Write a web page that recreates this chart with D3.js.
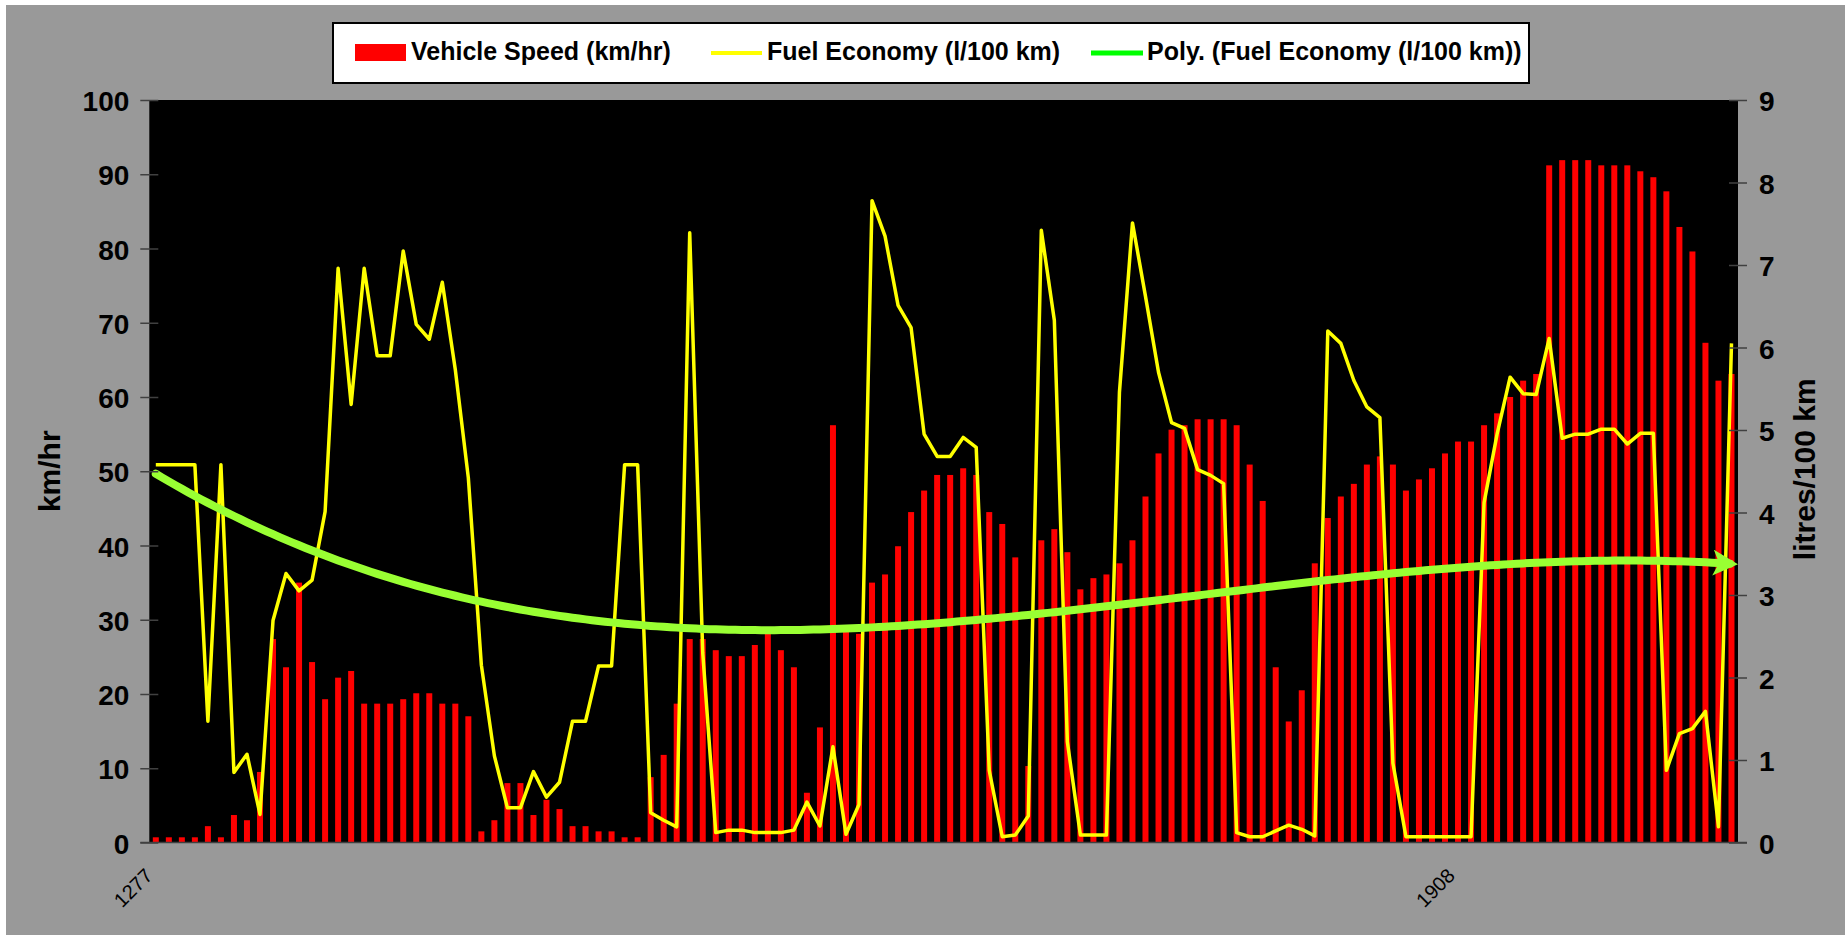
<!DOCTYPE html>
<html><head><meta charset="utf-8">
<script src="https://cdn.jsdelivr.net/npm/d3@7"></script>
<style>
body{margin:0;background:#fff;}
svg{display:block;}
text{font-family:"Liberation Sans",Arial,Helvetica,sans-serif;}
</style>
</head><body>
<svg id="c" width="1845" height="935"></svg>
<script>
// ---- DATA ----
const speed = [
  0.7, 0.7, 0.7, 0.7, 2.2, 0.7, 3.7, 3.0, 9.5, 27.4,
  23.6, 35.0, 24.3, 19.3, 22.2, 23.1, 18.7, 18.7, 18.7, 19.3,
  20.1, 20.1, 18.7, 18.7, 17.0, 1.5, 3.0, 8.0, 8.0, 3.7,
  5.75, 4.5, 2.2, 2.2, 1.5, 1.5, 0.7, 0.7, 8.8, 11.8,
  18.7, 27.4, 27.4, 25.9, 25.1, 25.1, 26.6, 28.2, 25.9, 23.6,
  6.7, 15.5, 56.2, 28.4, 28.1, 35.0, 36.1, 39.9, 44.5, 47.4,
  49.5, 49.5, 50.4, 49.5, 44.5, 42.9, 38.4, 10.3, 40.7, 42.2,
  39.1, 34.1, 35.6, 36.1, 37.6, 40.7, 46.6, 52.4, 55.6, 56.2,
  57.0, 57.0, 57.0, 56.2, 50.9, 46.0, 23.6, 16.3, 20.5, 37.6,
  43.7, 46.6, 48.3, 50.9, 52.0, 50.9, 47.4, 48.9, 50.4, 52.4,
  54.0, 54.0, 56.2, 57.8, 60.0, 62.2, 63.1, 91.2, 91.9, 91.9,
  91.9, 91.2, 91.2, 91.2, 90.4, 89.6, 87.7, 82.9, 79.6, 67.3,
  62.2, 63.1
];
const fuel = [
  4.58, 4.58, 4.58, 4.58, 1.47, 4.58, 0.85, 1.07, 0.34, 2.69,
  3.26, 3.05, 3.18, 4.01, 6.96, 5.31, 6.96, 5.90, 5.90, 7.17,
  6.28, 6.10, 6.79, 5.73, 4.42, 2.15, 1.05, 0.42, 0.42, 0.86,
  0.55, 0.73, 1.47, 1.47, 2.14, 2.14, 4.58, 4.58, 0.36, 0.27,
  0.19, 7.39, 2.30, 0.12, 0.15, 0.15, 0.12, 0.12, 0.12, 0.15,
  0.49, 0.20, 1.16, 0.10, 0.46, 7.78, 7.35, 6.51, 6.24, 4.95,
  4.68, 4.68, 4.91, 4.79, 0.875, 0.07, 0.09, 0.32, 7.42, 6.33,
  1.22, 0.09, 0.09, 0.09, 5.46, 7.51, 6.62, 5.70, 5.09, 5.02,
  4.52, 4.45, 4.35, 0.12, 0.07, 0.07, 0.14, 0.21, 0.16, 0.08,
  6.20, 6.05, 5.60, 5.28, 5.15, 0.96, 0.07, 0.07, 0.07, 0.07,
  0.07, 0.07, 4.12, 4.95, 5.64, 5.44, 5.43, 6.11, 4.90, 4.95,
  4.95, 5.01, 5.01, 4.83, 4.96, 4.96, 0.875, 1.32, 1.38, 1.59,
  0.19, 6.05
];
const xTickLabels = ["1277", "1908"];
const xTickIndex = [0, 100];
const speedTicks = [0, 10, 20, 30, 40, 50, 60, 70, 80, 90, 100];
const fuelTicks = [0, 1, 2, 3, 4, 5, 6, 7, 8, 9];
const legendLabels = ["Vehicle Speed (km/hr)", "Fuel Economy (l/100 km)", "Poly. (Fuel Economy (l/100 km))"];
const leftTitle = "km/hr";
const rightTitle = "litres/100 km";
const polyOrder = 3;

// ---- LAYOUT ----
const W = 1845, H = 935;
const P = {l: 149.3, r: 1738, t: 100, b: 842.5};
const svg = d3.select("#c");

svg.append("rect").attr("x", 0).attr("y", 0).attr("width", W).attr("height", H).attr("fill", "#ffffff");
svg.append("rect").attr("x", 6).attr("y", 5).attr("width", W - 6).attr("height", H - 5).attr("fill", "#999999");
svg.append("rect").attr("x", P.l).attr("y", P.t).attr("width", P.r - P.l).attr("height", P.b - P.t).attr("fill", "#000000");

const idx = speed.map((d, i) => i);
const x = d3.scaleBand().domain(idx).range([P.l, P.r]).paddingInner(0.54).paddingOuter(0.27);
const bw = x.bandwidth();
const step = x.step();
const xc = i => x(0) + bw / 2 + i * step; // continuous index -> px (band centres)
const yS = d3.scaleLinear().domain([0, 100]).range([P.b, P.t]);
const yF = d3.scaleLinear().domain([0, 9]).range([P.b, P.t]);

// bars
svg.append("g").selectAll("rect").data(speed).join("rect")
  .attr("x", (d, i) => x(i)).attr("y", d => yS(d))
  .attr("width", bw).attr("height", d => yS(0) - yS(d))
  .attr("fill", "#ff0000");

// polynomial trend (least squares, like Excel's trendline)
function polyfit(xs, ys, order) {
  const n = order + 1;
  const A = Array.from({length: n}, () => new Array(n).fill(0));
  const b = new Array(n).fill(0);
  xs.forEach((xv, k) => {
    const p = [];
    for (let j = 0; j < n; j++) p.push(Math.pow(xv, j));
    for (let r = 0; r < n; r++) {
      b[r] += p[r] * ys[k];
      for (let c = 0; c < n; c++) A[r][c] += p[r] * p[c];
    }
  });
  for (let c = 0; c < n; c++) {
    let piv = c;
    for (let r = c + 1; r < n; r++) if (Math.abs(A[r][c]) > Math.abs(A[piv][c])) piv = r;
    [A[c], A[piv]] = [A[piv], A[c]]; [b[c], b[piv]] = [b[piv], b[c]];
    for (let r = c + 1; r < n; r++) {
      const f = A[r][c] / A[c][c];
      for (let k = c; k < n; k++) A[r][k] -= f * A[c][k];
      b[r] -= f * b[c];
    }
  }
  const coef = new Array(n).fill(0);
  for (let r = n - 1; r >= 0; r--) {
    let s = b[r];
    for (let k = r + 1; k < n; k++) s -= A[r][k] * coef[k];
    coef[r] = s / A[r][r];
  }
  return coef;
}
const N = fuel.length - 1;
const coef = polyfit(idx.map(i => i / N), fuel, polyOrder);
const trend = t => coef.reduce((s, c, j) => s + c * Math.pow(t / N, j), 0);

const trendPts = d3.range(0, N + 0.001, 0.5);
const lineT = d3.line().x(t => xc(t)).y(t => yF(trend(t))).curve(d3.curveLinear);
svg.append("path").attr("d", lineT(trendPts)).attr("fill", "none")
  .attr("stroke", "#00ff00").attr("stroke-width", 4);

// yellow fuel line
const lineF = d3.line().x((d, i) => xc(i)).y(d => yF(d));
svg.append("path").datum(fuel).attr("d", lineF).attr("fill", "none")
  .attr("stroke", "#ffff00").attr("stroke-width", 3.5).attr("stroke-linejoin", "round");

// arrow emphasising the trend
const defs = svg.append("defs");
defs.append("marker").attr("id", "ah").attr("markerUnits", "userSpaceOnUse")
  .attr("markerWidth", 28).attr("markerHeight", 28).attr("viewBox", "0 0 28 28")
  .attr("refX", 17).attr("refY", 13).attr("orient", "auto")
  .append("path").attr("d", "M0,0 L25,13 L0,26 L6,13 Z").attr("fill", "#99ff33");
const tEnd = (P.r - 8 - xc(0)) / step;
const arrowPts = d3.range(0, tEnd, 0.5).concat([tEnd]);
svg.append("path").attr("d", lineT(arrowPts)).attr("fill", "none")
  .attr("stroke", "#99ff33").attr("stroke-width", 8).attr("stroke-linecap", "round")
  .attr("marker-end", "url(#ah)");

// axes
const tickColor = "#404040";
const axL = svg.append("g").attr("transform", `translate(${P.l},0)`)
  .call(d3.axisLeft(yS).tickValues(speedTicks).tickSize(9).tickPadding(11));
axL.select(".domain").remove();
axL.selectAll(".tick line").attr("x1", 9).attr("stroke", tickColor).attr("stroke-width", 1.5);
axL.selectAll(".tick text").attr("font-size", 28).attr("font-weight", "bold").attr("fill", "#000").attr("dy", "0.38em")
  .style("font-family", '"Liberation Sans", Arial, sans-serif');

const axR = svg.append("g").attr("transform", `translate(${P.r},0)`)
  .call(d3.axisRight(yF).tickValues(fuelTicks).tickSize(9).tickPadding(12));
axR.select(".domain").remove();
axR.selectAll(".tick line").attr("x1", -9).attr("stroke", tickColor).attr("stroke-width", 1.5);
axR.selectAll(".tick text").attr("font-size", 28).attr("font-weight", "bold").attr("fill", "#000").attr("dy", "0.38em")
  .style("font-family", '"Liberation Sans", Arial, sans-serif');

// bottom axis line
svg.append("line").attr("x1", P.l - 9).attr("x2", P.r + 9).attr("y1", P.b).attr("y2", P.b)
  .attr("stroke", tickColor).attr("stroke-width", 1.5);

// x tick labels
svg.append("g").selectAll("text").data(xTickIndex).join("text")
  .attr("transform", d => `translate(${xc(d) - 2},${P.b + 34.5}) rotate(-45)`)
  .attr("text-anchor", "end").attr("font-size", 20).attr("fill", "#000")
  .text((d, k) => xTickLabels[k]);

// axis titles
svg.append("text").attr("transform", `translate(60,${(P.t + P.b) / 2}) rotate(-90)`)
  .attr("text-anchor", "middle").attr("font-size", 30).attr("font-weight", "bold").text(leftTitle);
svg.append("text").attr("transform", `translate(1815,${(P.t + P.b) / 2 - 2}) rotate(-90)`)
  .attr("text-anchor", "middle").attr("font-size", 30).attr("font-weight", "bold").text(rightTitle);

// legend
const lg = svg.append("g");
lg.append("rect").attr("x", 333).attr("y", 23).attr("width", 1196).attr("height", 60)
  .attr("fill", "#ffffff").attr("stroke", "#000").attr("stroke-width", 2);
lg.append("rect").attr("x", 355).attr("y", 44).attr("width", 51).attr("height", 17).attr("fill", "#ff0000");
lg.append("line").attr("x1", 711).attr("x2", 762).attr("y1", 53).attr("y2", 53).attr("stroke", "#ffff00").attr("stroke-width", 4);
lg.append("line").attr("x1", 1091).attr("x2", 1143).attr("y1", 53).attr("y2", 53).attr("stroke", "#00ff00").attr("stroke-width", 5);
const lx = [411, 767, 1147];
lg.selectAll("text.l").data(legendLabels).join("text").attr("class", "l")
  .attr("x", (d, i) => lx[i]).attr("y", 60).attr("font-size", 25).attr("font-weight", "bold").attr("fill", "#000")
  .text(d => d);
</script>
</body></html>
